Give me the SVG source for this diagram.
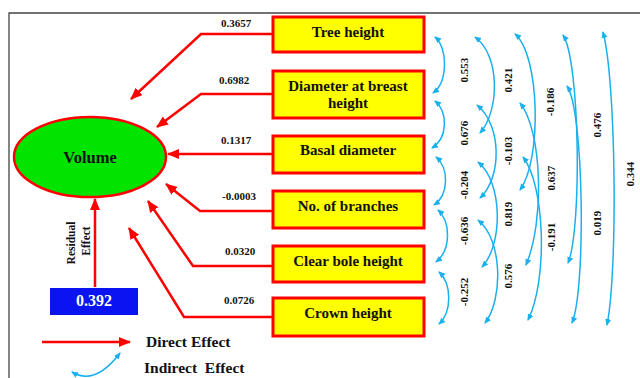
<svg xmlns="http://www.w3.org/2000/svg" width="640" height="378" viewBox="0 0 640 378">
<style>
.box{fill:#ffff00;stroke:#ff0000;stroke-width:3}
.bt{font-family:"Liberation Serif","Times New Roman",serif;font-weight:bold;font-size:15px;fill:#111;text-anchor:middle}
.num{font-family:"Liberation Serif","Times New Roman",serif;font-weight:bold;font-size:11px;fill:#111;text-anchor:middle}
.red{fill:none;stroke:#ff0000;stroke-width:2.5;marker-end:url(#ra)}
.blue{fill:none;stroke:#1ab0ee;stroke-width:1.5;marker-start:url(#ba);marker-end:url(#ba)}
.leg{font-family:"Liberation Serif","Times New Roman",serif;font-weight:bold;font-size:15.5px;fill:#111}
</style>
<defs>
<marker id="ra" markerUnits="userSpaceOnUse" markerWidth="14" markerHeight="12" refX="11" refY="5" orient="auto"><path d="M0,0 L12,5 L0,10 z" fill="#ff0000"/></marker>
<marker id="ba" markerUnits="userSpaceOnUse" markerWidth="8" markerHeight="8" refX="6" refY="3" orient="auto-start-reverse"><path d="M0,0 L7,3 L0,6 z" fill="#1ab0ee"/></marker>
</defs>
<rect width="640" height="378" fill="#ffffff"/>
<path d="M9,378 V13 H640" fill="none" stroke="#444" stroke-width="1.3"/>

<g id="connectors">
<path class="red" d="M273,34 H201 L131,99"/>
<path class="red" d="M273,94 H201 L157,127"/>
<path class="red" d="M273,154 H168"/>
<path class="red" d="M273,211 H200 L166,184"/>
<path class="red" d="M273,266 H193 L148,201"/>
<path class="red" d="M273,317 H184 L129,228"/>
<path class="red" d="M95,287 V199"/>
<path class="blue" d="M435,37 C448,48 448,82 433,93"/>
<path class="blue" d="M435,101 C448,112 448,138 432,148"/>
<path class="blue" d="M436,157 C449,168 449,195 434,205"/>
<path class="blue" d="M438,210 C451,222 451,250 436,262"/>
<path class="blue" d="M439,272 C452,284 452,312 439,324"/>
<path class="blue" d="M475,37 C500,55 500,110 480,133"/>
<path class="blue" d="M477,105 C502,125 502,178 480,198"/>
<path class="blue" d="M478,162 C503,182 503,245 482,267"/>
<path class="blue" d="M478,220 C503,240 503,300 485,323"/>
<path class="blue" d="M515,34 C540,55 542,160 520,190"/>
<path class="blue" d="M520,103 C542,130 545,220 526,265"/>
<path class="blue" d="M523,157 C545,185 548,280 528,320"/>
<path class="blue" d="M563,35 C580,60 582,230 568,263"/>
<path class="blue" d="M567,86 C584,110 586,290 572,323"/>
<path class="blue" d="M603,32 C616,80 618,270 607,325"/>
<text class="num" x="236" y="27">0.3657</text>
<text class="num" x="234" y="84">0.6982</text>
<text class="num" x="236" y="144">0.1317</text>
<text class="num" x="239" y="200">-0.0003</text>
<text class="num" x="240" y="255">0.0320</text>
<text class="num" x="239" y="304">0.0726</text>
<g class="num">
<text transform="translate(468,70) rotate(-90)">0.553</text>
<text transform="translate(468,133) rotate(-90)">0.676</text>
<text transform="translate(468,185) rotate(-90)">-0.204</text>
<text transform="translate(468,231) rotate(-90)">-0.636</text>
<text transform="translate(468,292) rotate(-90)">-0.252</text>
<text transform="translate(512,80) rotate(-90)">0.421</text>
<text transform="translate(512,151) rotate(-90)">-0.103</text>
<text transform="translate(512,214) rotate(-90)">0.819</text>
<text transform="translate(512,276) rotate(-90)">0.576</text>
<text transform="translate(554,102) rotate(-90)">-0.186</text>
<text transform="translate(555,178) rotate(-90)">0.637</text>
<text transform="translate(555,237) rotate(-90)">-0.191</text>
<text transform="translate(601,125) rotate(-90)">0.476</text>
<text transform="translate(601,223) rotate(-90)">0.019</text>
<text transform="translate(634,174) rotate(-90)">0.344</text>
</g>
<g class="num" style="font-size:11.5px">
<text transform="translate(75,243) rotate(-90)">Residual</text>
<text transform="translate(90,241) rotate(-90)">Effect</text>
</g>
</g>

<g id="volume">
<ellipse cx="90" cy="157" rx="76" ry="40" fill="#00e400" stroke="#ff0000" stroke-width="2.5"/>
<text x="90" y="163" font-family="Liberation Serif, Times New Roman, serif" font-weight="bold" font-size="16.5" fill="#111" text-anchor="middle">Volume</text>
</g>
<g id="tree-height"><rect class="box" x="273" y="17" width="151" height="35"/><text class="bt" x="348" y="37">Tree height</text></g>
<g id="dbh"><rect class="box" x="273" y="71" width="151" height="47"/><text class="bt" x="348" y="91">Diameter at breast</text><text class="bt" x="348" y="108">height</text></g>
<g id="basal-diameter"><rect class="box" x="273" y="136" width="151" height="37"/><text class="bt" x="348" y="155">Basal diameter</text></g>
<g id="branches"><rect class="box" x="273" y="191" width="151" height="37"/><text class="bt" x="348" y="211">No. of branches</text></g>
<g id="clear-bole"><rect class="box" x="273" y="246" width="151" height="36"/><text class="bt" x="348" y="266">Clear bole height</text></g>
<g id="crown-height"><rect class="box" x="273" y="298" width="151" height="38"/><text class="bt" x="348" y="318">Crown height</text></g>
<g id="residual"><rect x="50" y="288" width="88" height="27" fill="#0a14f0"/><text x="94" y="306" font-family="Liberation Serif, Times New Roman, serif" font-weight="bold" font-size="16" fill="#ffffff" text-anchor="middle">0.392</text></g>
<g id="legend">
<path class="red" d="M42,342 H130"/>
<text class="leg" x="146" y="347">Direct Effect</text>
<path class="blue" d="M72,372 Q95,386 120,353"/>
<text class="leg" x="144" y="373" xml:space="preserve">Indirect  Effect</text>
</g>
</svg>
